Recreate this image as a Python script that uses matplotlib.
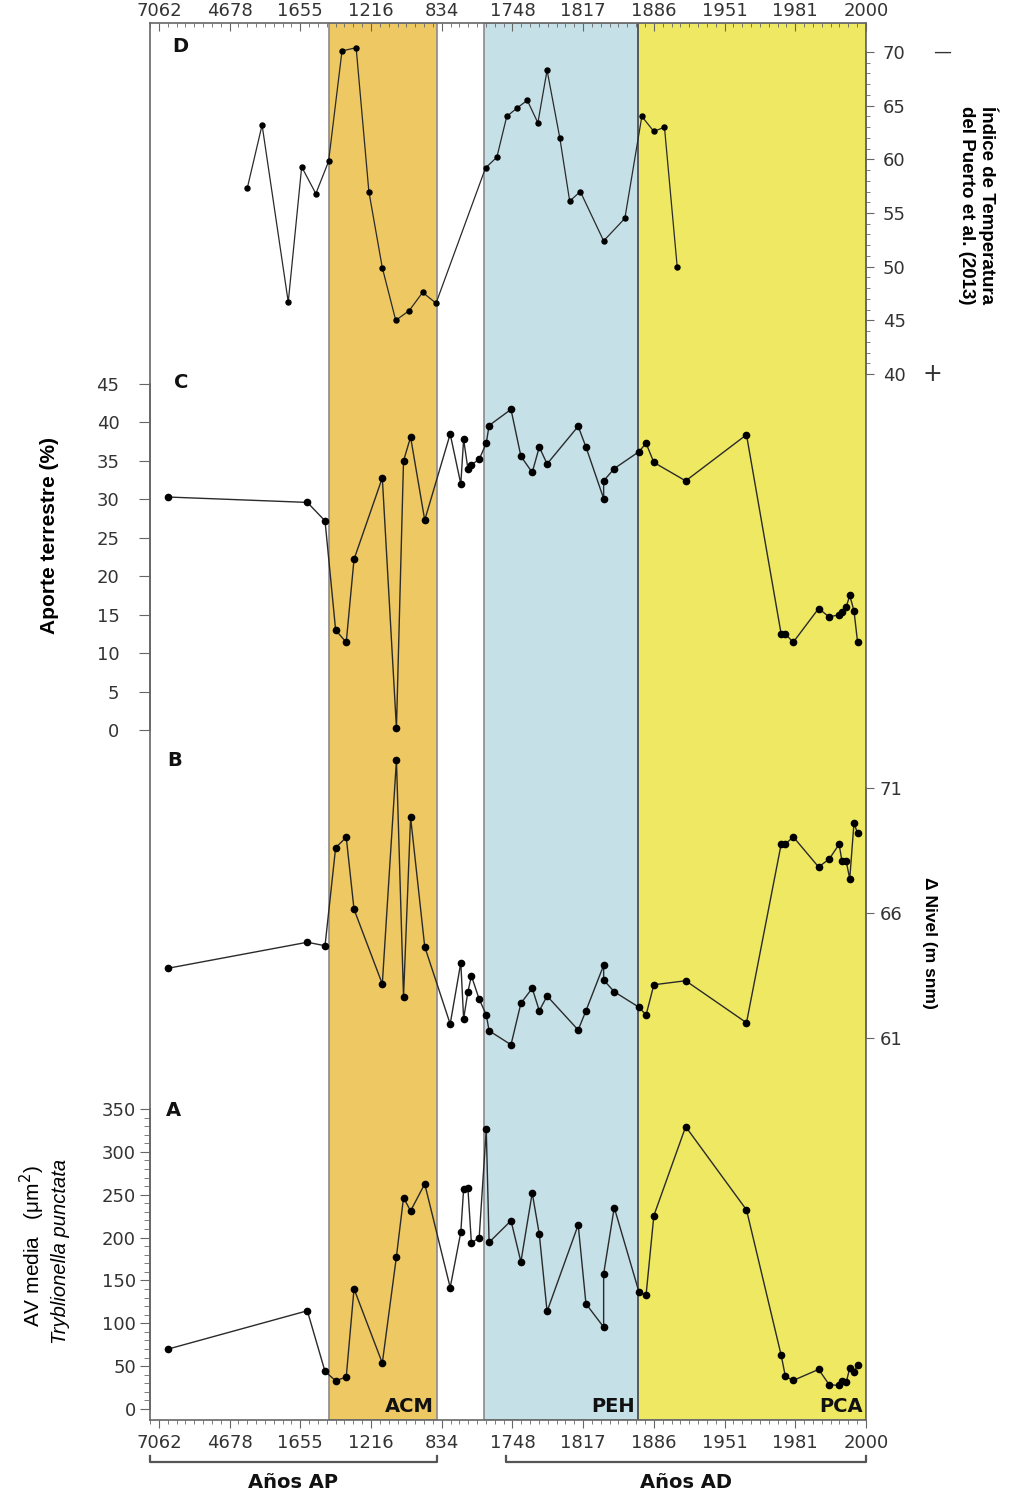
import matplotlib
matplotlib.use("Agg")
import matplotlib.pyplot as plt
from matplotlib.ticker import MultipleLocator, FixedLocator
from matplotlib.transforms import blended_transform_factory

# ── Data ──────────────────────────────────────────────────────────────────────
# composite age axis: one unit per labelled tick (years BP on the left, AD on the right)
age_labels = ["7062", "4678", "1655", "1216", "834", "1748",
              "1817", "1886", "1951", "1981", "2000"]

periods       = ["ACM", "PEH", "PCA"]
period_start  = [2.40, 4.60, 6.78]
period_end    = [3.94, 6.78, 10.0]
period_colors = ["#EEC862", "#C6E0E8", "#EEE862"]

# D: temperature index (del Puerto et al. 2013)
temp_x = [1.25, 1.46, 1.83, 2.02, 2.22, 2.40, 2.59, 2.79, 2.97, 3.16, 3.35, 3.54,
          3.73, 3.92, 4.62, 4.78, 4.92, 5.07, 5.21, 5.36, 5.49, 5.67, 5.81, 5.96,
          6.29, 6.59, 6.83, 7.00, 7.15, 7.33]
temp_y = [57.3, 63.2, 46.7, 59.3, 56.8, 59.8, 70.1, 70.4, 57.0, 49.9, 45.0, 45.9,
          47.6, 46.6, 59.2, 60.2, 64.0, 64.8, 65.5, 63.4, 68.3, 62.0, 56.1, 57.0,
          52.4, 54.5, 64.0, 62.6, 63.0, 50.0]

# core samples shared by A, B, C
sample_x = [0.13, 2.10, 2.35, 2.50, 2.65, 2.76, 3.16, 3.36, 3.46, 3.56, 3.76, 4.12,
            4.27, 4.31, 4.37, 4.42, 4.53, 4.63, 4.67, 4.98, 5.12, 5.28, 5.38, 5.49,
            5.93, 6.04, 6.29, 6.29, 6.44, 6.79, 6.89, 7.00, 7.45, 8.31, 8.80, 8.86,
            8.97, 9.33, 9.48, 9.62, 9.66, 9.72, 9.77, 9.83, 9.88]

# C: terrestrial input (%)
terr = [30.3, 29.6, 27.2, 13.0, 11.4, 22.2, 32.8, 0.2, 35.0, 38.1, 27.3, 38.5,
        32.0, 37.8, 34.0, 34.5, 35.2, 37.3, 39.6, 41.7, 35.6, 33.5, 36.8, 34.6,
        39.5, 36.8, 30.1, 32.4, 34.0, 36.2, 37.3, 34.8, 32.4, 38.4, 12.5, 12.5,
        11.4, 15.8, 14.7, 15.0, 15.4, 16.0, 17.5, 15.5, 11.5]

# B: lake level (m snm)
level = [63.79, 64.83, 64.69, 68.61, 69.03, 66.15, 63.16, 72.12, 62.64, 69.83, 64.65, 61.56,
         64.01, 61.77, 62.84, 63.49, 62.55, 61.93, 61.29, 60.73, 62.39, 62.99, 62.09, 62.68,
         61.32, 62.09, 63.91, 63.32, 62.85, 62.23, 61.92, 63.13, 63.29, 61.61, 68.75, 68.75,
         69.05, 67.84, 68.16, 68.75, 68.07, 68.07, 67.37, 69.59, 69.20]

# A: mean valve area of Tryblionella punctata (um2)
valve = [69.9, 114.6, 43.8, 33.0, 37.3, 140.2, 53.6, 177.9, 246.6, 231.1, 262.6, 141.7,
         206.3, 256.8, 258.3, 193.5, 200.0, 326.3, 194.4, 219.7, 171.7, 252.1, 204.0, 113.8,
         214.8, 122.7, 95.6, 157.7, 235.0, 136.4, 132.9, 225.6, 329.4, 232.3, 62.9, 38.0,
         33.3, 46.2, 28.3, 27.5, 32.2, 31.0, 47.8, 42.7, 51.6]

# ── Layout (figure pixels) ────────────────────────────────────────────────────
W, H, DPI = 1019, 1495, 100
FL, FT, FR, FB = 150, 23, 866, 1420          # frame left, top, right, bottom
XLIM = (-0.125, 10.0)
FRAME_C = "#666666"
TICK_C = "#333333"

plt.rcParams["font.family"] = "DejaVu Sans"
fig = plt.figure(figsize=(W / DPI, H / DPI), dpi=DPI)
rect = [FL / W, 1 - FB / H, (FR - FL) / W, (FB - FT) / H]


def fx(x):
    return x / W


def fy(y):
    return 1 - y / H


def age_ticks(axis):
    axis.set_major_locator(FixedLocator(range(len(age_labels))))
    axis.set_minor_locator(MultipleLocator(0.125))


# ── Base axes: bands, frame, age ticks ───────────────────────────────────────
ax0 = fig.add_axes(rect)
ax0.set_xlim(*XLIM)
ax0.set_ylim(0, 1)
for s, e, c in zip(period_start, period_end, period_colors):
    ax0.axvspan(s, e, facecolor=c, edgecolor="#8a8a8a", lw=1.2, zorder=0)
ax0.axvline(period_start[2], color="#555555", lw=1.3, zorder=1)
ax0.set_yticks([])
for sp in ax0.spines.values():
    sp.set_color(FRAME_C)
    sp.set_linewidth(1.2)
age_ticks(ax0.xaxis)
ax0.set_xticklabels(age_labels)
ax0.tick_params(axis="x", which="both", direction="out", colors=FRAME_C,
                labelcolor=TICK_C, labelsize=13)
ax0.tick_params(axis="x", which="major", length=6, pad=4)
ax0.tick_params(axis="x", which="minor", length=3)

# top age scale, ticks pointing inward
axT = ax0.twiny()
axT.set_xlim(*XLIM)
age_ticks(axT.xaxis)
axT.set_xticklabels(age_labels)
axT.tick_params(axis="x", which="both", direction="in", colors=FRAME_C,
                labelcolor=TICK_C, labelsize=13)
axT.tick_params(axis="x", which="major", length=6, pad=2)
axT.tick_params(axis="x", which="minor", length=3)
for sp in axT.spines.values():
    sp.set_visible(False)

for name, e in zip(periods, period_end):
    ax0.text(e - 0.05, 0.003, name, ha="right", va="bottom",
             fontsize=14, fontweight="bold", color="#111111")


# ── Panel axes sharing the frame ─────────────────────────────────────────────
def panel_axes(side, v0, y0, v1, y1):
    """Transparent axes whose value v0 sits at pixel y0 and v1 at pixel y1."""
    ax = fig.add_axes(rect)
    ax.patch.set_visible(False)
    ax.set_xlim(*XLIM)
    per_px = (v1 - v0) / (y0 - y1)
    ax.set_ylim(v0 - (FB - y0) * per_px, v1 + (y1 - FT) * per_px)
    for k, sp in ax.spines.items():
        sp.set_visible(k == side)
    ax.spines[side].set_bounds(v0, v1)
    ax.spines[side].set_color(FRAME_C)
    ax.spines[side].set_linewidth(1.2)
    ax.yaxis.set_ticks_position(side)
    ax.yaxis.set_label_position(side)
    ax.tick_params(axis="x", which="both", bottom=False, top=False,
                   labelbottom=False, labeltop=False)
    ax.tick_params(axis="y", which="both", colors=FRAME_C, labelcolor=TICK_C,
                   labelsize=13)
    return ax


line_kw = dict(color="#2a2a2a", lw=1.0, marker="o", markersize=4.5,
               markerfacecolor="black", markeredgecolor="black")

# D
axD = panel_axes("right", 40, 374, 70, 52)
axD.plot(temp_x, temp_y, **{**line_kw, "markersize": 3.6, "lw": 0.9})
axD.yaxis.set_major_locator(FixedLocator(range(40, 71, 5)))
axD.yaxis.set_minor_locator(FixedLocator(range(40, 71)))
axD.tick_params(axis="y", which="major", length=6, pad=6)
axD.tick_params(axis="y", which="minor", length=3)

# C
axC = panel_axes("left", 0, 730, 45, 384)
axC.plot(sample_x, terr, **line_kw)
axC.yaxis.set_major_locator(FixedLocator(range(0, 46, 5)))
axC.tick_params(axis="y", which="major", length=8, pad=14)

# B
axB = panel_axes("right", 61, 1038, 71, 788)
axB.plot(sample_x, level, **line_kw)
axB.yaxis.set_major_locator(FixedLocator([61, 66, 71]))
axB.tick_params(axis="y", which="major", length=6, pad=4)

# A
axA = panel_axes("left", 0, 1409, 350, 1109)
axA.plot(sample_x, valve, **line_kw)
axA.yaxis.set_major_locator(FixedLocator(range(0, 351, 50)))
axA.yaxis.set_minor_locator(FixedLocator(range(0, 351, 10)))
axA.tick_params(axis="y", which="major", length=7, pad=3)
axA.tick_params(axis="y", which="minor", length=4)

# ── Panel letters ────────────────────────────────────────────────────────────
for letter, (px, py) in zip("DCBA", [(180, 47), (181, 382), (175, 760), (173, 1111)]):
    fig.text(fx(px), fy(py), letter, ha="center", va="center",
             fontsize=14, fontweight="bold", color="#111111")

# ── Axis titles ──────────────────────────────────────────────────────────────
fig.text(fx(978), fy(205), "Índice de Temperatura\ndel Puerto et al. (2013)",
         rotation=-90, ha="center", va="center", fontsize=13.5, fontweight="bold",
         family="Liberation Sans", linespacing=1.25)
fig.text(fx(942), fy(52), "—", ha="center", va="center", fontsize=13, color="#333333")
fig.text(fx(932), fy(374), "+", ha="center", va="center", fontsize=17, color="#333333")

fig.text(fx(50), fy(535), "Aporte terrestre (%)", rotation=90, ha="center",
         va="center", fontsize=15, fontweight="bold", family="Liberation Sans")

fig.text(fx(930), fy(943), "Δ Nivel (m snm)", rotation=-90, ha="center",
         va="center", fontsize=12.5, fontweight="bold", family="Liberation Sans")

fig.text(fx(32), fy(1246), "AV media   (μm$^2$)", rotation=90, ha="center",
         va="center", fontsize=15, family="Liberation Sans")
fig.text(fx(60), fy(1251), "Tryblionella punctata", rotation=90, ha="center",
         va="center", fontsize=14.5, style="italic", family="Liberation Sans")

# ── Age-scale brackets under the axis ────────────────────────────────────────
btr = blended_transform_factory(ax0.transData, fig.transFigure)
for (x0, x1), label in zip([(-0.125, 3.93), (4.91, 10.0)], ["Años AP", "Años AD"]):
    ax0.plot([x0, x0, x1, x1], [fy(1456), fy(1462), fy(1462), fy(1456)],
             color="#555555", lw=1.6, transform=btr, clip_on=False)
    ax0.text((x0 + x1) / 2, fy(1482), label, transform=btr, ha="center",
             va="center", fontsize=14, fontweight="bold", color="#111111")

fig.savefig("out.png", dpi=DPI)
